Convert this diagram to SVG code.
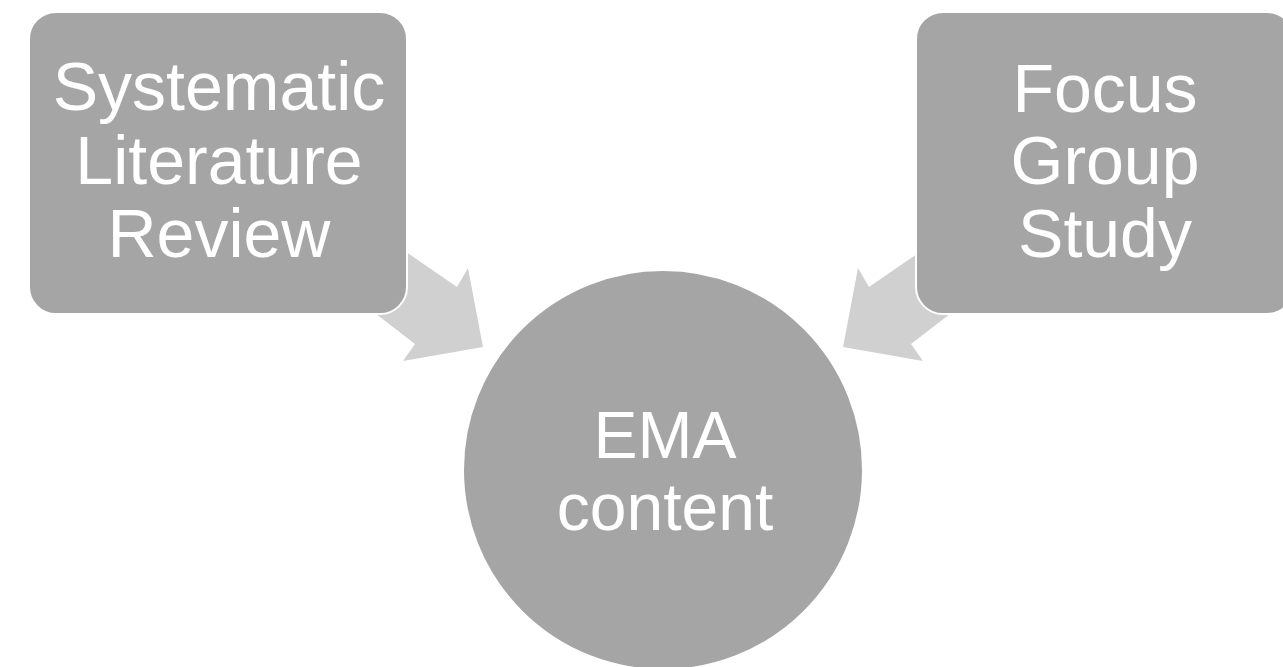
<svg xmlns="http://www.w3.org/2000/svg" width="1283" height="667" viewBox="0 0 1283 667">
<style>
.node{fill:#a5a5a5;stroke:#ffffff;stroke-width:2}
.arrow{fill:#d0d0d0;stroke:none}
.lbl{font-family:"Liberation Sans",Arial,sans-serif;fill:#ffffff;text-anchor:middle}
</style>
<rect width="1283" height="667" fill="#ffffff"/>
<g id="connectors">
<polygon class="arrow" points="396,245 457,287 468,268 483,347 403,361 415,344 367,307"/>
<polygon class="arrow" points="930,245 869,287 858,268 843,347 923,361 911,344 959,307"/>
</g>
<g id="node-slr">
<rect class="node" x="29" y="12" width="378" height="302" rx="27" ry="27"/>
<text class="lbl" font-size="68"><tspan x="219" y="110">Systematic</tspan><tspan x="219" y="184">Literature</tspan><tspan x="219" y="257">Review</tspan></text>
</g>
<g id="node-fgs">
<rect class="node" x="916" y="12" width="378" height="302" rx="27" ry="27"/>
<text class="lbl" font-size="68"><tspan x="1105" y="112">Focus</tspan><tspan x="1105" y="184">Group</tspan><tspan x="1105" y="257">Study</tspan></text>
</g>
<g id="node-ema">
<circle class="node" cx="663" cy="470" r="200"/>
<text class="lbl" font-size="66"><tspan x="665" y="458">EMA</tspan><tspan x="665" y="530">content</tspan></text>
</g>
</svg>
